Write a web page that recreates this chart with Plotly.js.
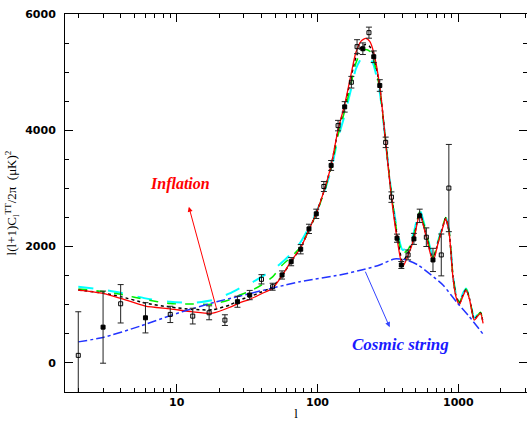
<!DOCTYPE html>
<html>
<head>
<meta charset="utf-8">
<script src="https://cdn.plot.ly/plotly-3.0.1.min.js"></script>
<style>html,body{margin:0;padding:0;background:#fff;}#chart{width:527px;height:421px;}</style>
</head>
<body>
<div id="chart"></div>
<script>
// Model curves (multipole l grid and l(l+1)C_l/2pi values, in uK^2)
const ellModel = [2,3,4,6,9,13,18,24,28,33,40,48,56,65,76,87,98,111,125,140,156,174,187,204,220,235,250,277,305,335,367,402,440,484,532,593,661,720,770,813,860,915,960,1017,1080,1135,1200,1297,1370,1440,1500];
const inflRed = [1253,1196,1110,977,930,879,855,960,1034,1093,1190,1283,1500,1750,1980,2290,2576,2950,3396,4012,4443,4989,5334,5534,5581,5530,5350,4758,3793,2851,2145,1655,1850,2133,2560,2162,1741,2070,2300,2480,2250,1483,1150,1000,1150,1253,1100,736,800,852,679];
const inflBlack = [1253,1200,1140,1030,960,920,915,1000,1081,1140,1220,1310,1500,1740,1980,2290,2570,2950,3390,4000,4420,4930,5250,5430,5477,5440,5300,4740,3800,2880,2200,1750,1890,2160,2580,2180,1780,2080,2310,2490,2260,1500,1170,1020,1170,1260,1110,750,810,860,690];
const inflGreen = [1270,1230,1180,1090,1020,1012,1010,1090,1167,1230,1340,1480,1680,1820,2000,2290,2560,2930,3350,3920,4330,4820,5150,5350,5390,5360,5220,4700,3800,2900,2250,1880,1950,2200,2600,2220,1820,2090,2330,2500,2270,1520,1190,1040,1190,1270,1120,760,820,870,700];
const inflCyan = [1310,1260,1207,1110,1052,1034,1080,1200,1283,1360,1480,1600,1730,1880,2080,2330,2590,2920,3320,3870,4260,4730,5050,5230,5275,5250,5130,4650,3800,2920,2300,1943,2000,2250,2633,2250,1828,2100,2340,2507,2280,1530,1200,1052,1200,1280,1130,770,830,880,710];

const ellString = [2,3,5.5,9.2,13.1,19.2,28,75,144,216,276,352,427,518,642,778,990,1201,1500];
const cosmicString = [362,438,633,822,938,1052,1150,1397,1512,1610,1684,1788,1771,1684,1512,1340,1024,793,495];

// Measurements: filled squares (set A) and open squares (set B)
const ellA = [3,6,27,33,56,65,76,87,98,125,156,210,251,277,367,394,484,532,661];
const valA = [615,776,1052,1167,1512,1741,1955,2305,2564,3396,4403,5403,5265,4770,2145,1684,2133,2529,1771];
const errA = [620,260,95,80,70,70,80,80,80,85,90,100,100,100,70,60,95,115,200];

const ellB = [2,4,9,13,17,22,40,48,111,140,174,191,232,305,335,440,593,757,857];
const valB = [130,1017,834,805,862,736,1438,1310,3034,4081,4827,5438,5679,3793,2851,1857,2162,1857,3007];
const errB = [750,330,140,135,120,92,80,60,86,90,100,120,95,90,90,85,160,360,750];

const yTickVals = [0,2000,4000,6000];
const yTickText = ['0','2000','4000','6000'];
const xTickVals = [10,100,1000];
const xTickText = ['10','100','1000'];

const lineTrace = (x, y, color, dash, width) => ({
  x: x, y: y, type: 'scatter', mode: 'lines',
  line: {color: color, dash: dash, width: width, shape: 'spline', smoothing: 0.6},
  hoverinfo: 'skip', showlegend: false
});

const pointTrace = (x, y, e, symbol) => ({
  x: x, y: y, type: 'scatter', mode: 'markers',
  marker: {symbol: symbol, size: 4, color: '#000', line: {color: '#000', width: 1}},
  error_y: {type: 'data', array: e, visible: true, color: '#222', thickness: 1, width: 3},
  showlegend: false
});

const data = [
  lineTrace(ellModel, inflCyan, '#00ffff', 'longdash', 2),
  lineTrace(ellModel, inflGreen, '#00ee00', 'dash', 1.5),
  lineTrace(ellModel, inflBlack, '#000000', 'dot', 1.5),
  lineTrace(ellModel, inflRed, '#ff0000', 'solid', 1.3),
  lineTrace(ellString, cosmicString, '#2233ff', 'dashdot', 1.5),
  pointTrace(ellA, valA, errA, 'square'),
  pointTrace(ellB, valB, errB, 'square-open')
];

const tickFont = {family: 'DejaVu Sans', size: 11, weight: 'bold', color: '#000000'};

const layout = {
  width: 527, height: 421,
  margin: {l: 65, r: 0, t: 14, b: 29},
  paper_bgcolor: '#fff', plot_bgcolor: '#fff',
  showlegend: false,
  xaxis: {
    type: 'log', range: [0.2067, 3.488],
    tickvals: xTickVals, ticktext: xTickText,
    ticks: 'inside', ticklen: 8, tickwidth: 1, tickcolor: '#000',
    minor: {ticks: 'inside', ticklen: 4, tickwidth: 1, tickcolor: '#000', dtick: 'D1'},
    showline: true, linecolor: '#000', linewidth: 1, mirror: 'ticks',
    showgrid: false, zeroline: false,
    tickfont: tickFont,
    title: {text: 'l', font: {family: 'Liberation Serif', size: 13, color: '#000000'}, standoff: 2}
  },
  yaxis: {
    range: [-500, 6000],
    tickvals: yTickVals, ticktext: yTickText,
    ticks: 'inside', ticklen: 8, tickwidth: 1, tickcolor: '#000',
    minor: {ticks: 'inside', ticklen: 4, tickwidth: 1, tickcolor: '#000', dtick: 500},
    showline: true, linecolor: '#000', linewidth: 1, mirror: 'ticks',
    showgrid: false, zeroline: false,
    tickfont: tickFont, ticklabelstandoff: 6,
    title: {text: 'l(l+1)C<sub>l</sub><sup>TT</sup>/2π  (μK)<sup>2</sup>', font: {family: 'Liberation Serif', size: 13, color: '#000000'}, standoff: 5}
  },
  annotations: [
    {xref: 'x', yref: 'y', x: Math.log10(10.47), y: 3081, text: '<b><i>Inflation</i></b>', showarrow: false,
     font: {family: 'Liberation Serif', size: 16, color: '#ff0000'}},
    {xref: 'x', yref: 'y', x: Math.log10(386), y: 322, text: '<b><i>Cosmic string</i></b>', showarrow: false,
     font: {family: 'Liberation Serif', size: 17, color: '#1a1aff'}},
    {xref: 'x', yref: 'y', x: Math.log10(12.2), y: 2684, text: '', showarrow: true, ax: 28, ay: 103,
     arrowcolor: '#ff0000', arrowwidth: 1, arrowhead: 2, arrowsize: 1},
    {xref: 'x', yref: 'y', x: Math.log10(325.6), y: 615, text: '', showarrow: true, ax: -25, ay: -57,
     arrowcolor: '#3344ff', arrowwidth: 1, arrowhead: 2, arrowsize: 1}
  ]
};

Plotly.newPlot('chart', data, layout, {staticPlot: true, displayModeBar: false});
</script>
</body>
</html>
